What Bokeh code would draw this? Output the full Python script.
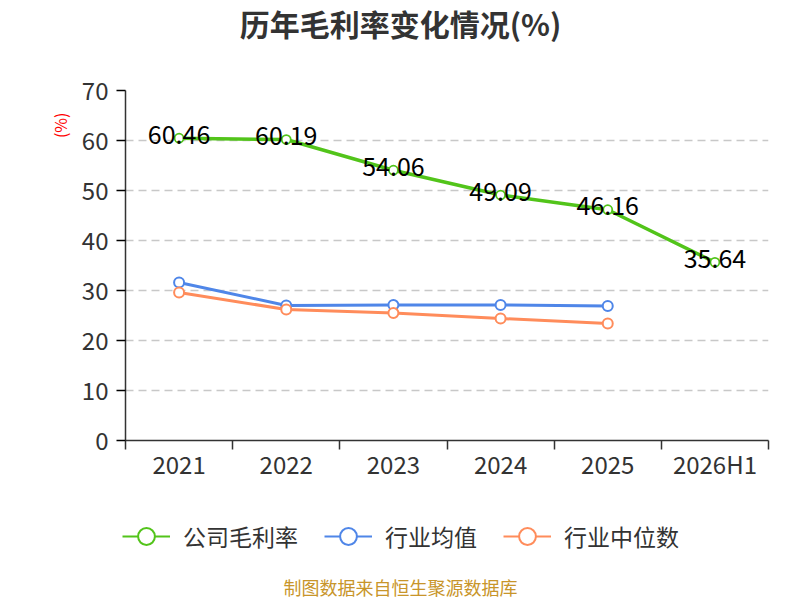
from bokeh.plotting import figure
from bokeh.layouts import column
from bokeh.models import (ColumnDataSource, FixedTicker, Label, Legend, LegendItem, Range1d, Title)
from bokeh.core.properties import value
from bokeh.embed import file_html
from bokeh.resources import INLINE

categories = ["2021", "2022", "2023", "2024", "2025", "2026H1"]
company = [60.46, 60.19, 54.06, 49.09, 46.16, 35.64]
industry_avg = [31.6, 27.0, 27.1, 27.1, 26.9]
industry_median = [29.6, 26.2, 25.5, 24.4, 23.4]
y_ticks = [0, 10, 20, 30, 40, 50, 60, 70]
series_names = ["公司毛利率", "行业均值", "行业中位数"]

GREEN = "#52c41a"
BLUE = "#4f86e8"
ORANGE = "#ff8c5b"
FONT = "Noto Sans CJK SC"
TXT = "#333333"


def blank(h):
    f = figure(width=800, height=h, output_backend="svg", toolbar_location=None,
               x_range=Range1d(0, 1), y_range=Range1d(0, 1),
               x_axis_location=None, y_axis_location=None, frame_align=False,
               min_border_left=0, min_border_right=0, min_border_top=0, min_border_bottom=0)
    f.outline_line_color = None
    f.grid.visible = False
    f.background_fill_color = "white"
    f.border_fill_color = "white"
    return f


# ---- header ----
top = blank(60)
top.add_layout(Label(x=400, y=38, x_units="screen", y_units="screen", text="历年毛利率变化情况(%)",
                     text_align="center", text_baseline="middle", text_font=FONT,
                     text_font_size="30px", text_font_style="bold", text_color=TXT))

# ---- main chart ----
p = figure(width=800, height=440, output_backend="svg", toolbar_location=None,
           x_range=Range1d(-0.5, len(categories) - 0.5), y_range=Range1d(0, 70), frame_align=False,
           min_border_left=125, min_border_right=32, min_border_top=30, min_border_bottom=60)
p.outline_line_color = None
p.background_fill_color = "white"
p.border_fill_color = "white"

xs = list(range(len(categories)))
src_c = ColumnDataSource(dict(x=xs, y=company, t=[f"{v:.2f}" for v in company]))
src_a = ColumnDataSource(dict(x=xs[:len(industry_avg)], y=industry_avg))
src_m = ColumnDataSource(dict(x=xs[:len(industry_median)], y=industry_median))

p.xaxis.ticker = FixedTicker(ticks=xs, minor_ticks=[i - 0.5 for i in range(len(categories) + 1)])
p.xaxis.major_label_overrides = {i: c for i, c in enumerate(categories)}
p.xaxis.major_tick_line_color = None
p.xaxis.major_tick_out = 0
p.xaxis.major_tick_in = 0
p.xaxis.minor_tick_line_color = TXT
p.xaxis.minor_tick_out = 9
p.xaxis.minor_tick_in = 0
p.xaxis.minor_tick_line_width = 1.5
p.xaxis.major_label_standoff = -4
p.yaxis.ticker = FixedTicker(ticks=y_ticks)
p.yaxis.minor_tick_line_color = None
p.yaxis.major_tick_out = 9
p.yaxis.major_tick_in = 0
p.yaxis.major_label_standoff = 8
for ax in (p.xaxis, p.yaxis):
    ax.axis_line_color = TXT
    ax.axis_line_width = 1.5
    ax.major_tick_line_width = 1.5
    ax.major_label_text_font = FONT
    ax.major_label_text_font_size = "24px"
    ax.major_label_text_color = TXT
p.xgrid.grid_line_color = None
p.ygrid.ticker = FixedTicker(ticks=y_ticks)
p.ygrid.grid_line_color = "#c8c8c8"
p.ygrid.grid_line_dash = "8 5"
p.ygrid.grid_line_width = 1.3

p.line("x", "y", source=src_c, line_color=GREEN, line_width=3.5)
p.line("x", "y", source=src_a, line_color=BLUE, line_width=3)
p.line("x", "y", source=src_m, line_color=ORANGE, line_width=3)
p.scatter("x", "y", source=src_c, size=9, fill_color="white", line_color=GREEN, line_width=1.8)
p.scatter("x", "y", source=src_a, size=10, fill_color="white", line_color=BLUE, line_width=2)
p.scatter("x", "y", source=src_m, size=10, fill_color="white", line_color=ORANGE, line_width=2)
p.text("x", "y", text="t", source=src_c, text_align="center", text_baseline="middle",
       y_offset=-4, text_font=value(FONT), text_font_size="25px", text_color="black")

p.add_layout(Title(text="(%)", align="right", offset=22, standoff=14,
                   text_font=FONT, text_font_size="16px", text_font_style="normal",
                   text_color="red"), "left")

# ---- legend + footer ----
bot = blank(100)
items = []
for name, col in zip(series_names, (GREEN, BLUE, ORANGE)):
    es = ColumnDataSource(dict(x=[float("nan")], y=[float("nan")]))
    r1 = bot.line("x", "y", source=es, line_color=col, line_width=2)
    r2 = bot.scatter("x", "y", source=es, fill_color="white", line_color=col, line_width=2)
    items.append(LegendItem(label=name, renderers=[r1, r2]))
legend = Legend(items=items, orientation="horizontal", location=(122, 43),
                glyph_width=48, glyph_height=42, label_standoff=13, spacing=26,
                padding=0, margin=0, border_line_color=None, background_fill_alpha=0,
                label_text_font=FONT, label_text_font_size="23px", label_text_color=TXT)
bot.add_layout(legend, "center")
bot.add_layout(Label(x=400, y=14, x_units="screen", y_units="screen", text="制图数据来自恒生聚源数据库",
                     text_align="center", text_baseline="middle", text_font=FONT,
                     text_font_size="18px", text_color="#c8952a"))

layout = column(top, p, bot, spacing=0)
open("out.html", "w").write(file_html(layout, INLINE))
